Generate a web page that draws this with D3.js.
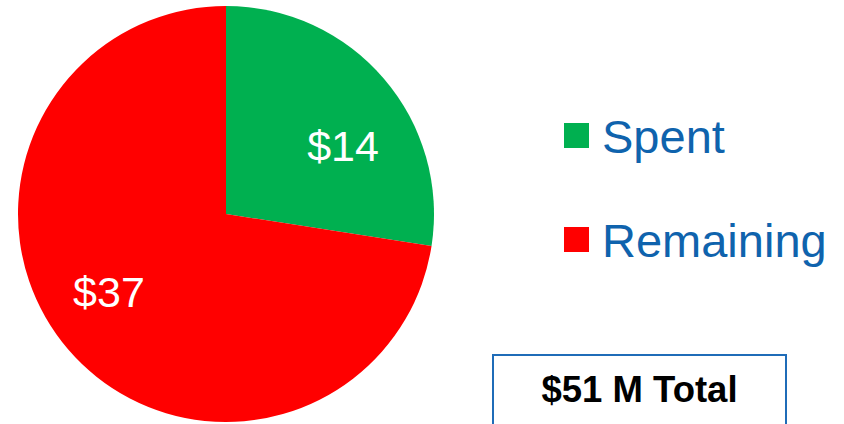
<!DOCTYPE html>
<html>
<head>
<meta charset="utf-8">
<script src="https://cdn.jsdelivr.net/npm/d3@7"></script>
<style>
  body { margin: 0; background: #fff; }
  svg { display: block; font-family: Arial, "Liberation Sans", sans-serif; }
</style>
</head>
<body>
<script>
const categories = ["Spent", "Remaining"];
const values = [14, 37];
const colors = ["#00B050", "#FF0000"];
const totalLabel = "$51 M Total";

const width = 844, height = 424;
const cx = 226, cy = 214, radius = 208;

const svg = d3.select("body")
  .append("svg")
  .attr("width", width)
  .attr("height", height);

const pie = d3.pie().sort(null).value(d => d.value);
const arcs = pie(categories.map((c, i) => ({ name: c, value: values[i], color: colors[i] })));

const arc = d3.arc().innerRadius(0).outerRadius(radius);
const labelArc = d3.arc().innerRadius(138).outerRadius(138);

const g = svg.append("g").attr("transform", `translate(${cx},${cy})`);

g.selectAll("path")
  .data(arcs)
  .enter()
  .append("path")
  .attr("d", arc)
  .style("fill", d => d.data.color);

// value labels, nudged a bit clockwise like the original
g.selectAll("text")
  .data(arcs)
  .enter()
  .append("text")
  .attr("transform", d => {
    const mid = (d.startAngle + d.endAngle) / 2 + 0.15;
    const p = labelArc.centroid({ startAngle: mid, endAngle: mid });
    return `translate(${p[0]},${p[1]})`;
  })
  .attr("text-anchor", "middle")
  .attr("dy", "0.46em")
  .style("fill", "#fff")
  .style("font-size", "43px")
  .text(d => "$" + d.data.value);

// legend
const legend = svg.append("g").attr("transform", "translate(564,0)");
const ly = d3.scalePoint().domain(categories).range([136, 240]);

legend.selectAll("rect")
  .data(categories)
  .enter()
  .append("rect")
  .attr("x", 0)
  .attr("y", d => ly(d) - 13)
  .attr("width", 25)
  .attr("height", 25)
  .style("fill", (d, i) => colors[i]);

legend.selectAll("text")
  .data(categories)
  .enter()
  .append("text")
  .attr("x", 38)
  .attr("y", d => ly(d) + 17)
  .style("fill", "#0F63AD")
  .style("font-size", "47px")
  .text(d => d);

// total box
svg.append("rect")
  .attr("x", 493)
  .attr("y", 355)
  .attr("width", 293)
  .attr("height", 100)
  .style("fill", "#fff")
  .style("stroke", "#1F6CB8")
  .style("stroke-width", 2);

svg.append("text")
  .attr("x", 639.5)
  .attr("y", 402)
  .attr("text-anchor", "middle")
  .style("font-size", "36.5px")
  .style("font-weight", "bold")
  .style("fill", "#000")
  .text(totalLabel);
</script>
</body>
</html>
